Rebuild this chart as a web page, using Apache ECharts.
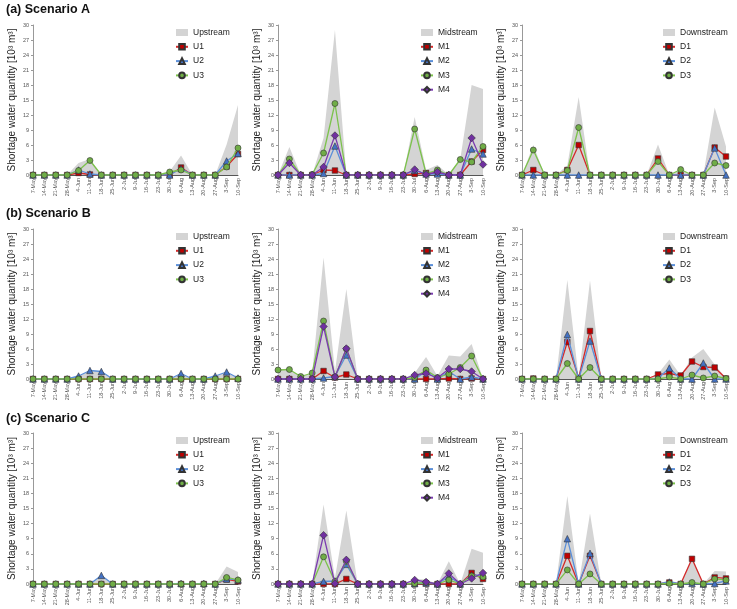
<!DOCTYPE html>
<html>
<head>
<meta charset="utf-8">
<script src="https://cdn.jsdelivr.net/npm/echarts@6/dist/echarts.min.js"></script>
<style>
  html, body { margin: 0; padding: 0; background: #fff; }
  #chart { width: 737px; height: 609px; }
</style>
</head>
<body>
<div id="chart"></div>
<script>
// 横轴日期
const dates = ['7-May', '14-May', '21-May', '28-May', '4-Jun', '11-Jun', '18-Jun', '25-Jun', '2-Jul', '9-Jul',
  '16-Jul', '23-Jul', '30-Jul', '6-Aug', '13-Aug', '20-Aug', '27-Aug', '3-Sep', '10-Sep'];

// Scenario A
const aUp = [0, 0, 0, 0, 2.4, 3.2, 0, 0, 0, 0, 0, 0, 0.7, 3.9, 0, 0, 0, 6.1, 14.0];
const aU1 = [0, 0, 0, 0, 0.4, 0.1, 0, 0, 0, 0, 0, 0, 0, 1.5, 0, 0, 0, 1.7, 4.2];
const aU2 = [0, 0, 0, 0, 1.0, 0.2, 0, 0, 0, 0, 0, 0, 0, 1.3, 0, 0, 0, 2.8, 4.3];
const aU3 = [0, 0, 0, 0, 0.9, 2.9, 0, 0, 0, 0, 0, 0, 0.6, 1.0, 0, 0, 0, 1.6, 5.4];
const aMid = [0, 5.6, 0, 0, 7.4, 29.0, 0, 0, 0, 0, 0, 0, 11.6, 1.0, 2.0, 0, 3.1, 18.0, 17.2];
const aM1 = [0, 0, 0, 0, 1.0, 0.9, 0, 0, 0, 0, 0, 0, 0.2, 0.4, 0.3, 0, 0, 2.7, 5.0];
const aM2 = [0, 0, 0, 0, 0.3, 5.8, 0, 0, 0, 0, 0, 0, 0.9, 0.2, 0.2, 0, 0, 5.2, 4.2];
const aM3 = [0, 3.2, 0, 0.1, 4.4, 14.3, 0, 0, 0, 0, 0, 0, 9.2, 0.3, 1.0, 0, 3.1, 2.6, 5.7];
const aM4 = [0, 2.4, 0, 0, 1.6, 7.9, 0, 0, 0, 0, 0, 0, 1.1, 0.1, 0.6, 0, 0, 7.4, 2.1];
const aDown = [0, 6.0, 0, 0, 1.9, 15.6, 0, 0, 0, 0, 0, 0, 6.1, 0, 1.1, 0, 0, 13.5, 5.7];
const aD1 = [0, 1.0, 0, 0, 1.0, 6.0, 0, 0, 0, 0, 0, 0, 3.3, 0, 0, 0, 0, 5.5, 3.7];
const aD2 = [0, 0, 0, 0, 0, 0, 0, 0, 0, 0, 0, 0, 0, 0, 0, 0, 0, 5.4, 0];
const aD3 = [0, 5.0, 0, 0, 0.9, 9.5, 0, 0, 0, 0, 0, 0, 2.7, 0, 1.1, 0, 0, 2.4, 1.9];

// Scenario B
const bUp = [0, 0, 0, 0, 0.6, 1.7, 1.5, 0, 0, 0, 0, 0, 0, 1.1, 0, 0, 0.6, 1.4, 0.2];
const bU1 = [0, 0, 0, 0, 0, 0, 0, 0, 0, 0, 0, 0, 0, 0, 0, 0, 0, 0, 0];
const bU2 = [0, 0, 0, 0, 0.6, 1.7, 1.5, 0, 0, 0, 0, 0, 0, 1.1, 0, 0, 0.6, 1.4, 0.2];
const bU3 = [0, 0, 0, 0, 0, 0, 0, 0, 0, 0, 0, 0, 0, 0, 0, 0, 0, 0, 0];
const bMid = [1.8, 1.9, 0.5, 1.2, 24.3, 1.5, 18.0, 0, 0, 0, 0, 0, 1.2, 4.4, 0.6, 4.7, 4.5, 7.0, 0];
const bM1 = [0, 0, 0, 0, 1.6, 0.3, 0.9, 0, 0, 0, 0, 0, 0, 0, 0, 0.1, 0, 0.1, 0];
const bM2 = [0, 0, 0, 0, 0.2, 0.5, 4.8, 0, 0, 0, 0, 0, 0, 1.5, 0, 1.5, 0, 0.4, 0];
const bM3 = [1.8, 1.9, 0.5, 1.2, 11.6, 0.4, 6.0, 0, 0, 0, 0, 0, 0.3, 1.8, 0.3, 1.0, 2.3, 4.6, 0];
const bM4 = [0, 0, 0, 0, 10.5, 0.4, 6.1, 0, 0, 0, 0, 0, 0.8, 1.1, 0.2, 2.0, 2.0, 1.5, 0];
const bDown = [0, 0.1, 0, 0, 19.8, 0.2, 19.7, 0, 0, 0, 0, 0, 1.0, 3.9, 0.7, 4.3, 6.0, 2.9, 0.2];
const bD1 = [0, 0.1, 0, 0, 7.4, 0.2, 9.6, 0, 0, 0, 0, 0, 0.9, 1.1, 0.7, 3.5, 2.4, 2.3, 0.1];
const bD2 = [0, 0, 0, 0, 8.9, 0, 7.6, 0, 0, 0, 0, 0, 0.1, 2.2, 0, 0, 3.2, 0, 0];
const bD3 = [0, 0, 0, 0, 3.1, 0, 2.3, 0, 0, 0, 0, 0, 0, 0.4, 0, 0.8, 0.2, 0.6, 0.1];

// Scenario C
const cUp = [0, 0, 0, 0, 0, 0, 1.7, 0, 0, 0, 0, 0, 0, 0.1, 0, 0.1, 0, 3.5, 2.4];
const cU1 = [0, 0, 0, 0, 0, 0, 0, 0, 0, 0, 0, 0, 0, 0, 0, 0, 0, 0.9, 0.5];
const cU2 = [0, 0, 0, 0, 0, 0, 1.7, 0, 0, 0, 0, 0, 0, 0.1, 0, 0.1, 0, 1.0, 0.8];
const cU3 = [0, 0, 0, 0, 0, 0, 0, 0, 0, 0, 0, 0, 0, 0, 0, 0, 0, 1.3, 0.8];
const cMid = [0, 0, 0, 0, 15.8, 1.2, 14.6, 0, 0, 0, 0, 0, 1.0, 0.9, 0, 4.5, 0, 7.0, 6.2];
const cM1 = [0, 0, 0, 0, 0, 0, 1.0, 0, 0, 0, 0, 0, 0, 0.1, 0, 0, 0, 2.2, 1.0];
const cM2 = [0, 0, 0, 0, 0.5, 0.6, 3.9, 0, 0, 0, 0, 0, 0.1, 0.2, 0, 1.5, 0, 1.8, 1.7];
const cM3 = [0, 0, 0, 0, 5.4, 0.5, 4.5, 0, 0, 0, 0, 0, 0.1, 0.3, 0, 0.8, 0, 1.6, 1.4];
const cM4 = [0, 0, 0, 0, 9.7, 0.1, 4.8, 0, 0, 0, 0, 0, 0.8, 0.4, 0, 2.1, 0, 1.1, 2.2];
const cDown = [0, 0, 0, 0, 17.5, 0, 14.0, 0, 0, 0, 0, 0, 0, 0.8, 0, 5.4, 0, 2.6, 2.5];
const cD1 = [0, 0, 0, 0, 5.6, 0, 5.6, 0, 0, 0, 0, 0, 0, 0.3, 0, 5.0, 0, 1.3, 1.1];
const cD2 = [0, 0, 0, 0, 9.0, 0, 6.1, 0, 0, 0, 0, 0, 0, 0.4, 0, 0.1, 0, 0.1, 0.6];
const cD3 = [0, 0, 0, 0, 2.8, 0, 2.0, 0, 0, 0, 0, 0, 0, 0.1, 0, 0.3, 0, 1.0, 0.8];

const titles = ['(a) Scenario A', '(b) Scenario B', '(c) Scenario C'];
const panels = [
  [
    { area: 'Upstream', areaData: aUp, names: ['U1', 'U2', 'U3'], lines: [aU1, aU2, aU3] },
    { area: 'Midstream', areaData: aMid, names: ['M1', 'M2', 'M3', 'M4'], lines: [aM1, aM2, aM3, aM4] },
    { area: 'Downstream', areaData: aDown, names: ['D1', 'D2', 'D3'], lines: [aD1, aD2, aD3] },
  ],
  [
    { area: 'Upstream', areaData: bUp, names: ['U1', 'U2', 'U3'], lines: [bU1, bU2, bU3] },
    { area: 'Midstream', areaData: bMid, names: ['M1', 'M2', 'M3', 'M4'], lines: [bM1, bM2, bM3, bM4] },
    { area: 'Downstream', areaData: bDown, names: ['D1', 'D2', 'D3'], lines: [bD1, bD2, bD3] },
  ],
  [
    { area: 'Upstream', areaData: cUp, names: ['U1', 'U2', 'U3'], lines: [cU1, cU2, cU3] },
    { area: 'Midstream', areaData: cMid, names: ['M1', 'M2', 'M3', 'M4'], lines: [cM1, cM2, cM3, cM4] },
    { area: 'Downstream', areaData: cDown, names: ['D1', 'D2', 'D3'], lines: [cD1, cD2, cD3] },
  ],
];

// 线条样式: 红方块, 蓝三角, 绿圆, 紫菱形
const styles = [
  { symbol: 'rect', size: 5.5, fill: '#c00000', line: '#d42a2a' },
  { symbol: 'triangle', size: 6.5, fill: '#4472c4', line: '#5b8fd9' },
  { symbol: 'circle', size: 6, fill: '#70ad47', line: '#7cc24c' },
  { symbol: 'diamond', size: 7.5, fill: '#7030a0', line: '#7b3bb0' },
];

const cols = [{ left: 33, width: 205 }, { left: 278, width: 205 }, { left: 522, width: 204 }];
const rows = [{ top: 25, height: 150 }, { top: 229, height: 150 }, { top: 433, height: 151 }];
const titleTops = [3, 207, 412];
const legendLefts = [175, 420, 662];

const grid = [];
const xAxis = [];
const yAxis = [];
const series = [];
const legend = [];
const title = [];

titles.forEach((t, r) => {
  title.push({
    text: t,
    left: 6,
    top: titleTops[r],
    padding: 0,
    textStyle: { fontFamily: 'Liberation Sans, Arial, sans-serif', fontSize: 12.5, fontWeight: 'bold', color: '#111' },
  });
});

panels.forEach((row, r) => {
  row.forEach((p, c) => {
    const idx = grid.length;
    grid.push({ left: cols[c].left, width: cols[c].width, top: rows[r].top, height: rows[r].height });
    xAxis.push({
      gridIndex: idx,
      type: 'category',
      data: dates,
      boundaryGap: false,
      axisLine: { lineStyle: { color: '#555', width: 1 } },
      axisTick: { show: false },
      axisLabel: { rotate: 90, fontSize: 5.5, color: '#555', margin: 3, interval: 0, fontFamily: 'Liberation Sans, Arial' },
      splitLine: { show: false },
    });
    yAxis.push({
      gridIndex: idx,
      type: 'value',
      min: 0,
      max: 30,
      interval: 3,
      name: 'Shortage water quantity [10³ m³]',
      nameLocation: 'middle',
      nameGap: 16,
      nameTextStyle: { fontSize: 10, color: '#222', fontFamily: 'Liberation Sans, Arial' },
      axisLine: { show: true, lineStyle: { color: '#999', width: 1 } },
      axisTick: { show: true, length: 2, lineStyle: { color: '#999' } },
      axisLabel: { fontSize: 5.5, color: '#555', margin: 4, fontFamily: 'Liberation Sans, Arial' },
      splitLine: { show: false },
    });
    // 灰色面积
    series.push({
      name: p.area,
      type: 'line',
      xAxisIndex: idx,
      yAxisIndex: idx,
      data: p.areaData,
      symbol: 'none',
      lineStyle: { width: 0, color: '#d4d4d4' },
      itemStyle: { color: '#d4d4d4' },
      areaStyle: { color: '#d4d4d4', opacity: 1 },
      z: 1,
    });
    p.names.forEach((n, k) => {
      const s = styles[k];
      series.push({
        name: n,
        type: 'line',
        xAxisIndex: idx,
        yAxisIndex: idx,
        data: p.lines[k],
        symbol: s.symbol,
        symbolSize: s.size,
        lineStyle: { color: s.line, width: 1.3 },
        itemStyle: { color: s.fill, borderColor: '#333', borderWidth: 0.6 },
        z: 3 + k,
      });
    });
    legend.push({
      left: legendLefts[c],
      top: rows[r].top + 3,
      padding: 0,
      orient: 'vertical',
      itemWidth: 12,
      itemHeight: 7,
      itemGap: 5.3,
      selectedMode: false,
      textStyle: { fontSize: 8.5, color: '#222', fontFamily: 'Liberation Sans, Arial' },
      data: [{ name: p.area, icon: 'rect', itemStyle: { color: '#d4d4d4' } }].concat(p.names.map((n) => ({ name: n }))),
    });
  });
});

const myChart = echarts.init(document.getElementById('chart'));
myChart.setOption({
  animation: false,
  backgroundColor: '#fff',
  title,
  grid,
  xAxis,
  yAxis,
  legend,
  series,
});
</script>
</body>
</html>
